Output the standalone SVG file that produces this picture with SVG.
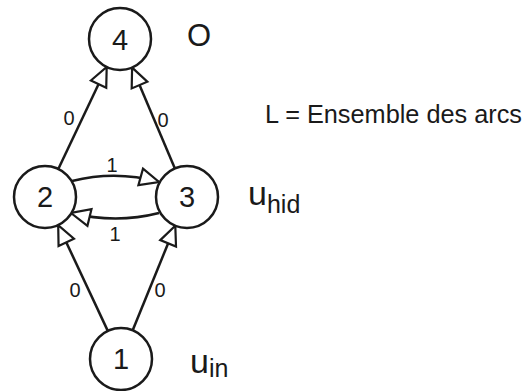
<svg xmlns="http://www.w3.org/2000/svg" width="525" height="391" viewBox="0 0 525 391">
<style>
.node circle{fill:#fff;stroke:#1a1a1a;stroke-width:2.5}
.nl{font-family:"Liberation Sans",Arial,sans-serif;font-size:29px;fill:#1a1a1a;text-anchor:middle}
.el{font-family:"Liberation Sans",Arial,sans-serif;font-size:20px;fill:#1a1a1a;text-anchor:middle}
.lab{font-family:"Liberation Sans",Arial,sans-serif;fill:#1a1a1a}
.edge{fill:none;stroke:#1a1a1a;stroke-width:2.5;marker-end:url(#ah)}
</style>
<defs>
<marker id="ah" markerUnits="userSpaceOnUse" viewBox="-3 -12 25 24" markerWidth="25" markerHeight="24" refX="19" refY="0" orient="auto">
<path d="M0,-8.5 L19,0 L0,8.5 Z" fill="#fff" stroke="#1a1a1a" stroke-width="2.2" stroke-linejoin="miter"/>
</marker>
</defs>
<rect width="525" height="391" fill="#fff"/>
<g id="connectors">
<path class="edge" d="M58.3,169 L106.7,67"/>
<path class="edge" d="M174.9,168.4 L132.1,67.6"/>
<path class="edge" d="M107.8,330.9 L58.2,225.1"/>
<path class="edge" d="M132.7,330.3 L175.3,225.7"/>
<path class="edge" d="M72,181 Q116,170 159,182"/>
<path class="edge" d="M159,213 Q116,224 71,213"/>
<text class="el" x="69" y="125">0</text>
<text class="el" x="163" y="127">0</text>
<text class="el" x="112" y="172">1</text>
<text class="el" x="115" y="241">1</text>
<text class="el" x="75" y="297">0</text>
<text class="el" x="160" y="297">0</text>
</g>
<g id="node4" class="node"><circle cx="120" cy="39" r="31"/><text class="nl" x="120" y="50">4</text></g>
<g id="node2" class="node"><circle cx="45" cy="197" r="31"/><text class="nl" x="45" y="207">2</text></g>
<g id="node3" class="node"><circle cx="187" cy="197" r="31"/><text class="nl" x="187" y="207">3</text></g>
<g id="node1" class="node"><circle cx="121" cy="359" r="31"/><text class="nl" x="121" y="369">1</text></g>
<text class="lab" x="187" y="46" font-size="31">O</text>
<text class="lab" x="265" y="123" font-size="25" textLength="257" lengthAdjust="spacingAndGlyphs">L = Ensemble des arcs</text>
<text class="lab" x="248" y="205" font-size="34">u<tspan font-size="25" dy="8">hid</tspan></text>
<text class="lab" x="190" y="373" font-size="34">u<tspan font-size="25" dy="4">in</tspan></text>
</svg>
